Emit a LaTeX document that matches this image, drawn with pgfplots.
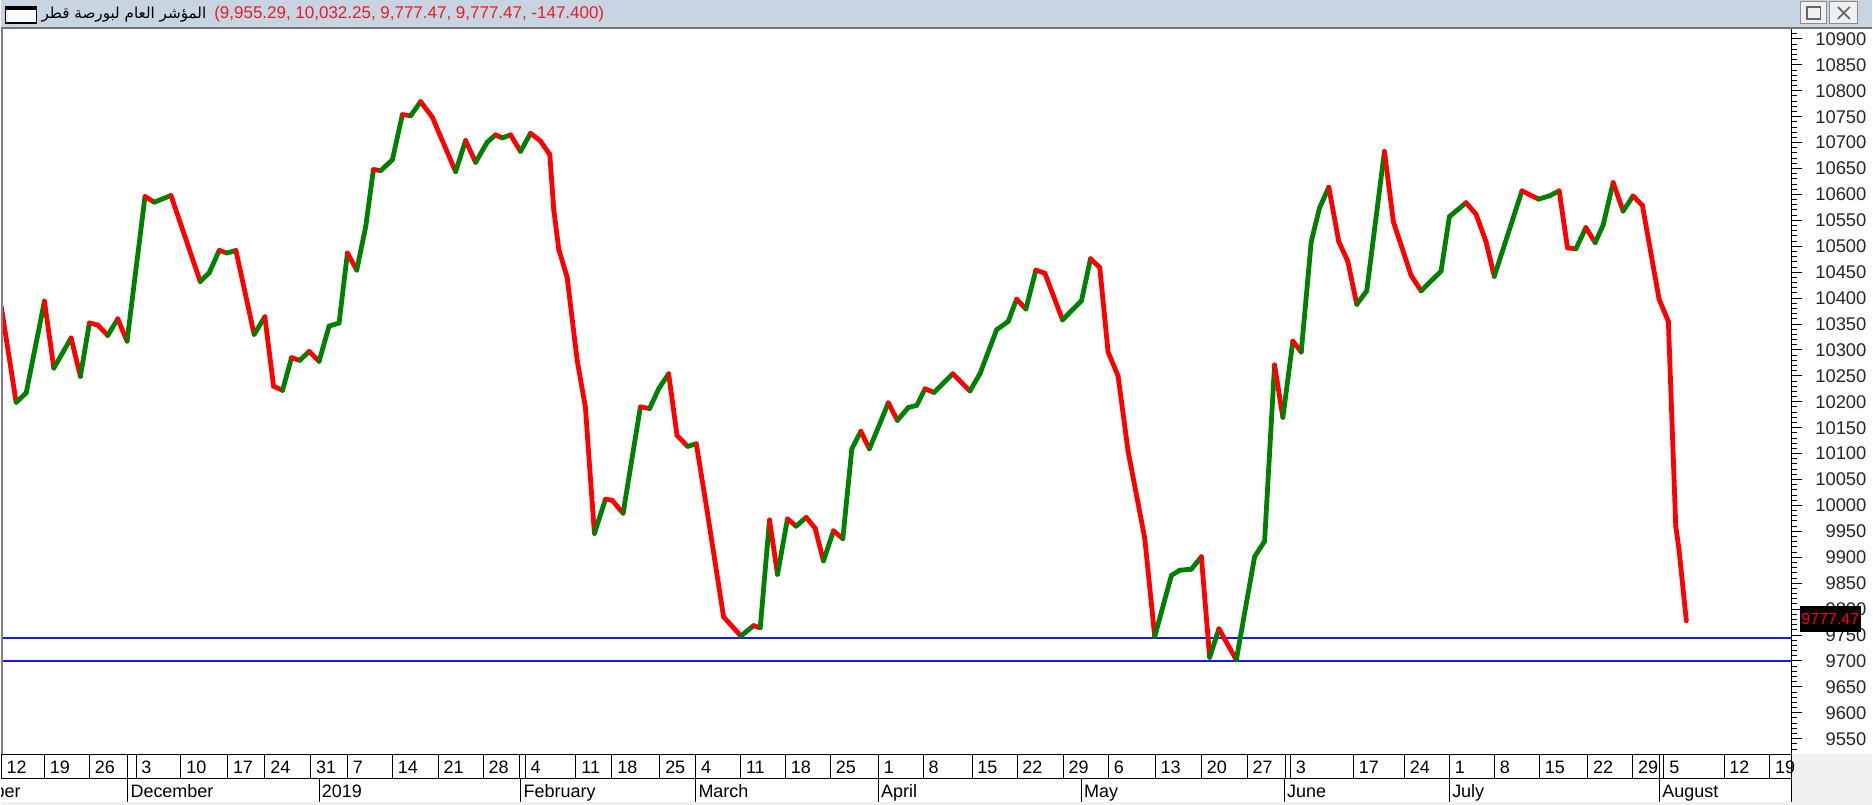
\documentclass[border=0pt]{standalone}
\usepackage{pgfplots}
\pgfplotsset{compat=1.18}
\usepackage{pgfplotstable}
\usepackage{fontspec}
\setmainfont{Liberation Sans}
\newfontfamily\arabicfont[Script=Arabic]{DejaVu Sans}
\TeXXeTstate=1

\definecolor{hdr}{RGB}{201,212,226}
\definecolor{lvl}{RGB}{25,25,235}
\definecolor{panel}{RGB}{240,240,240}
\definecolor{ttl}{RGB}{232,28,36}

% x = horizontal position (px of the screenshot), y = close, d = 1 if next move is up
\pgfplotstableread{
x y d
0 10384 0
15 10199 1
25 10217 1
43.3 10394 0
52.7 10265 1
70 10323 0
79.3 10249 1
88.3 10352 0
96.7 10348 0
106.7 10328 1
116.7 10360 0
126 10317 1
144 10596 0
153.3 10585 1
170 10598 0
199.3 10432 1
208.3 10449 1
218.3 10492 0
226 10487 1
235 10492 0
253.3 10330 1
264 10364 0
272.7 10230 0
281.7 10222 1
290.7 10285 0
299 10280 1
308.3 10297 0
318.3 10278 1
328.3 10346 1
338.3 10352 1
346.7 10487 0
356 10454 1
365 10538 1
372.7 10648 0
380 10646 1
391.7 10667 1
401.7 10754 0
410 10752 1
420 10779 0
431.7 10749 0
455 10644 1
465 10704 0
475 10662 1
486.7 10701 1
495 10715 0
501.7 10709 1
510 10715 0
520 10683 1
530 10718 0
540 10703 0
549.3 10677 0
553.3 10570 0
558.3 10494 0
566.7 10440 0
576.7 10280 0
585 10189 0
590 10052 0
594 9946 1
605 10012 0
611.7 10010 0
622.7 9985 1
640 10190 0
649.3 10187 1
658.3 10225 1
668.3 10254 0
676.7 10135 0
687.3 10114 1
696 10119 0
706.7 9991 0
723.3 9785 0
740.7 9748 1
753.3 9768 0
760 9764 1
769.3 9972 0
777.3 9867 1
787.3 9974 0
796 9960 1
806 9977 0
815 9956 0
823.3 9893 1
833.3 9951 0
842.7 9936 1
851.7 10109 1
860.7 10143 0
869.3 10109 1
888.3 10198 0
897.3 10164 1
908.3 10189 1
916.7 10193 1
925 10225 0
934 10218 1
952.7 10254 0
970 10221 1
980 10254 1
996.7 10339 1
1008.3 10355 1
1016.7 10398 0
1026 10379 1
1036 10454 0
1045 10448 0
1062.7 10358 1
1081.7 10395 1
1090.7 10476 0
1100 10459 0
1108.3 10296 0
1118.3 10250 0
1128.3 10105 0
1145 9937 0
1155 9747 1
1171.7 9865 1
1180 9875 1
1191.7 9877 1
1201.7 9901 0
1210 9707 1
1219.3 9762 0
1236.7 9702 1
1255 9901 1
1265 9931 1
1275 10271 0
1283.3 10170 1
1293.3 10317 0
1301.7 10296 1
1311.7 10509 1
1320 10574 1
1329.3 10614 0
1339.3 10509 0
1348.3 10471 0
1357.3 10388 1
1367.3 10414 1
1385 10683 0
1394 10547 0
1411.7 10444 0
1421.7 10414 1
1441.7 10452 1
1450 10557 1
1466.7 10584 0
1476.7 10562 0
1486.7 10509 0
1495 10442 1
1522.7 10607 0
1539.3 10591 1
1550 10597 1
1560 10607 0
1568.3 10497 0
1576.7 10495 1
1586.7 10536 0
1596 10507 1
1604 10541 1
1614 10623 0
1624 10568 1
1634 10597 0
1643.3 10579 0
1660 10398 0
1669.3 10355 0
1676.7 9960 0
1680 9914 0
1687.3 9777.47 0
}\closes

\begin{document}
\begin{tikzpicture}
% background, header bar, grey panels
\begin{scope}[x=0.5pt,y=-0.5pt]
  \fill[white] (0,0) rectangle (1873,806);
  \fill[hdr] (0,0) rectangle (1873,27);
  \fill[panel] (1793,755) rectangle (1873,806);
  \fill[panel] (0,803) rectangle (1873,806);
\end{scope}

% price panel
\begin{axis}[
  at={(0pt,-14pt)}, anchor=north west,
  scale only axis, width=896.5pt, height=363.5pt,
  xmin=0, xmax=1793, ymin=9520.4, ymax=10921.2,
  axis x line=none, axis y line*=right,
  axis line style={black, line width=0.5pt},
  ytick={9500,9550,...,10950},
  minor y tick num=4,
  tick align=outside,
  major tick length=5pt, minor tick length=2.5pt,
  every tick/.style={black, line width=0.5pt},
  scaled y ticks=false,
  /pgf/number format/1000 sep={},
  /pgf/number format/assume math mode=true,
  yticklabel style={font=\fontsize{9.2}{10}\selectfont, anchor=east, inner sep=0pt, xshift=32.5pt, text=black!85},
  colormap={rg}{rgb255=(255,0,0) rgb255=(0,128,0)},
  point meta min=0, point meta max=1,
]
\addplot[lvl, line width=0.9pt] coordinates {(0,9745) (1793,9745)};
\addplot[lvl, line width=0.9pt] coordinates {(0,9700) (1793,9700)};
\addplot[mesh, shader=flat corner, point meta=explicit, line width=2.4pt, line cap=round]
  table[x=x, y=y, meta=d] {\closes};
\end{axis}

% weekly date row
\begin{axis}[
  at={(0pt,-377.5pt)}, anchor=south west,
  scale only axis, width=896.5pt, height=1pt,
  xmin=0, xmax=1793, ymin=0, ymax=1,
  axis y line=none, axis x line*=bottom,
  axis line style={black, line width=0.5pt},
  xtick={0,43.3,88.3,126.7,135,180,226.7,264,310,346.7,391.7,437.6,482.6,518.6,524.6,575.5,611.5,659.5,695.4,740.4,785.4,830.3,878.3,923.3,972.1,1017.2,1063.5,1108.6,1155.5,1201.8,1247.5,1286,1290.8,1353.9,1405,1450.1,1495.2,1540.3,1588.5,1633.5,1660.6,1664.8,1725,1770.7},
  xticklabels={12,19,26,{},3,10,17,24,31,7,14,21,28,{},4,11,18,25,4,11,18,25,1,8,15,22,29,6,13,20,27,{},3,17,24,1,8,15,22,29,{},5,12,19},
  tick align=outside, major tick length=12pt,
  every tick/.style={black, line width=0.5pt},
  xticklabel style={font=\fontsize{9}{10}\selectfont, anchor=base west, inner sep=0pt, xshift=2.5pt, yshift=2pt},
]
\end{axis}

% month row
\begin{axis}[
  at={(0pt,-389.5pt)}, anchor=south west,
  scale only axis, width=896.5pt, height=1pt,
  xmin=0, xmax=1793, ymin=0, ymax=1,
  axis y line=none, axis x line*=bottom,
  axis line style={black, line width=0.5pt},
  xtick={126.7,318.3,520.4,695.4,878.3,1081.5,1284.8,1450.1,1660.6},
  xticklabels={December,2019,February,March,April,May,June,July,August},
  tick align=outside, major tick length=12pt,
  every tick/.style={black, line width=0.5pt},
  xticklabel style={font=\fontsize{9}{10}\selectfont, anchor=base west, inner sep=0pt, xshift=1.2pt, yshift=2.3pt},
]
\end{axis}

% overlays: borders, header text, last-price box, window buttons
\begin{scope}[x=0.5pt,y=-0.5pt]
  \draw[black!55, line width=1.2pt] (0,27.8) -- (1873,27.8);
  \draw[black!50, line width=1pt] (1,28) -- (1,755);
  \draw[black, line width=0.5pt] (1793,755) -- (1793,803);
  \begin{scope}
    \clip (0,779) rectangle (1793,803);
    \node[anchor=base west, inner sep=0pt, font=\fontsize{9}{10}\selectfont] at (-64,798.5) {November};
  \end{scope}
  % header icon
  \fill[white] (4,7) rectangle (35,23);
  \draw[black, line width=0.6pt] (4,7) rectangle (35,23);
  \fill[black] (4,6) rectangle (35,10);
  \node[anchor=base west, inner sep=0pt, font=\fontsize{7.6}{10}\selectfont\arabicfont] at (40,18.5) {\beginR المؤشر العام لبورصة قطر\endR};
  \node[anchor=base west, inner sep=0pt, text=ttl, font=\fontsize{8.5}{10}\selectfont] at (213,18.5) {(9,955.29, 10,032.25, 9,777.47, 9,777.47, -147.400)};
  % last price tag
  \fill[black] (1801,607) rectangle (1862,633);
  \node[text=red, inner sep=0pt, font=\fontsize{8}{9}\selectfont] at (1831.5,620) {9777.47};
  % window buttons
  \draw[black!45, fill=black!6, line width=0.5pt] (1802,2) rectangle (1828,24);
  \draw[black!60, line width=0.6pt] (1808,7) rectangle (1822,19);
  \draw[black!45, fill=black!6, line width=0.5pt] (1831,2) rectangle (1859,24);
  \draw[black!60, line width=0.8pt] (1839,7) -- (1851,19) (1839,19) -- (1851,7);
\end{scope}
\end{tikzpicture}
\end{document}
